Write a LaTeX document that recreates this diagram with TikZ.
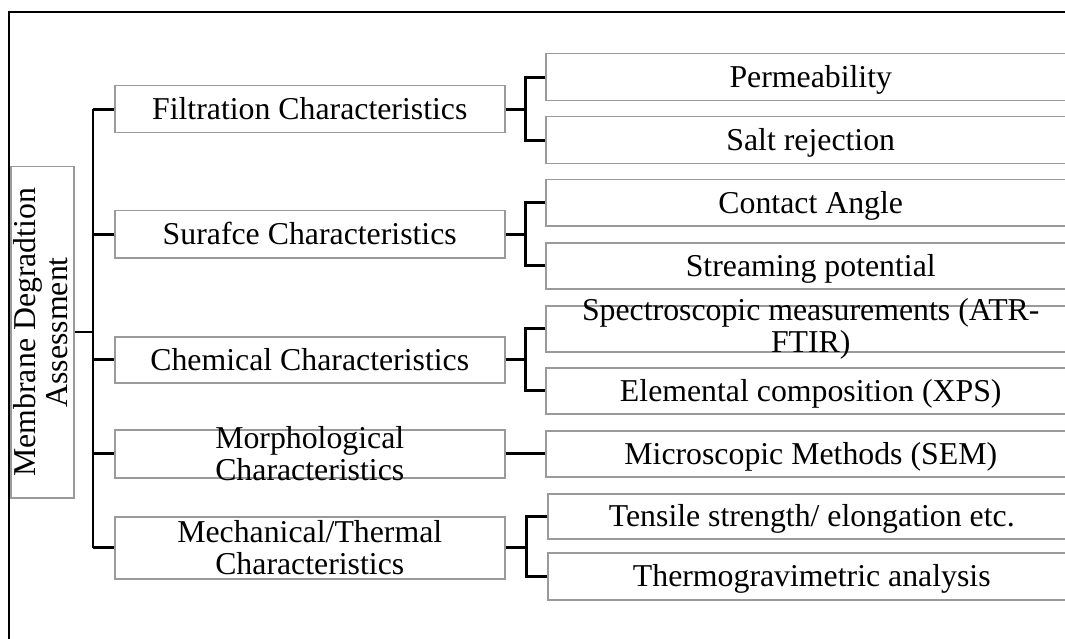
\documentclass[tikz,border=0pt]{standalone}
\usepackage{fontspec}
\setmainfont{Liberation Serif}
\definecolor{boxgray}{HTML}{9A9A9A}
\begin{document}
\begin{tikzpicture}[x=1pt,y=-1pt,
  box/.style={draw=boxgray, line width=1.5pt, anchor=north west, inner sep=0pt, minimum width=#1},
  box/.default=390pt,
  txt/.style={inner sep=0pt, align=center, font=\fontsize{31.8}{32}\selectfont},
  one/.style={txt, text height=28pt, text depth=7pt},
  conn/.style={draw=black, line width=2.6pt},
  frame/.style={draw=black, line width=2pt}]
\useasboundingbox (0,0) rectangle (1065,639);
\clip (0,0) rectangle (1065,639);
\draw[frame] (9,12) rectangle (1090,670);
% root
\node[box=63pt, minimum height=331pt] (root) at (10,166) {};
\node[txt, rotate=90] (roott) at ([xshift=-1.5pt]root.center) {Membrane Degradtion\\Assessment};
% level 1
\node[box, minimum height=47pt] (f) at (114,85) {};
\node[box, minimum height=47pt] (s) at (114,210) {};
\node[box, minimum height=46pt] (c) at (114,336) {};
\node[box, minimum height=48pt] (mo) at (114,429) {};
\node[box, minimum height=62pt] (me) at (114,516) {};
\node[one] (ft) at (f.center) {Filtration Characteristics};
\node[one] (st) at (s.center) {Surafce Characteristics};
\node[one] (ct) at (c.center) {Chemical Characteristics};
\node[txt] (mot) at (mo.center) {Morphological\\Characteristics};
\node[txt] (met) at (me.center) {Mechanical/Thermal\\Characteristics};
% level 2
\node[box=530pt, minimum height=47pt] (p) at (545,53) {};
\node[box=530pt, minimum height=47pt] (sr) at (545,116) {};
\node[box=530pt, minimum height=46pt] (ca) at (545,179) {};
\node[box=530pt, minimum height=46pt] (sp) at (545,242) {};
\node[box=530pt, minimum height=46pt] (spec) at (545,305) {};
\node[box=530pt, minimum height=46pt] (el) at (545,367) {};
\node[box=530pt, minimum height=46pt] (mi) at (545,430) {};
\node[box=528pt, minimum height=45pt] (te) at (547,493) {};
\node[box=528pt, minimum height=47pt] (th) at (547,552) {};
\node[one] (pt) at (p.center) {Permeability};
\node[one] (srt) at (sr.center) {Salt rejection};
\node[one] (cat) at (ca.center) {Contact Angle};
\node[one] (spt) at (sp.center) {Streaming potential};
\node[txt] (spect) at (spec.center) {Spectroscopic measurements (ATR-\\FTIR)};
\node[one] (elt) at (el.center) {Elemental composition (XPS)};
\node[one] (mit) at (mi.center) {Microscopic Methods (SEM)};
\node[one] (tet) at (te.center) {Tensile strength/ elongation etc.};
\node[one] (tht) at (th.center) {Thermogravimetric analysis};
% trunk
\coordinate (trunk) at (93,332);
\draw[conn] (root.east |- trunk) -- (trunk);
\draw[conn] (trunk |- f.west) -- (trunk |- me.west);
\foreach \n in {f,s,c,mo,me} \draw[conn] (trunk |- \n.west) -- (\n.west);
% level 2 brackets
\path (f.east) ++(20,0) coordinate (jf);
\path (s.east) ++(20,0) coordinate (js);
\path (c.east) ++(20,0) coordinate (jc);
\path (me.east) ++(21,0) coordinate (jm);
\draw[conn] (f.east) -- (jf);
\draw[conn] (p.west) -| (jf) |- (sr.west);
\draw[conn] (s.east) -- (js);
\draw[conn] (ca.west) -| (js) |- (sp.west);
\draw[conn] (c.east) -- (jc);
\draw[conn] (spec.west) -| (jc) |- (el.west);
\draw[conn] (mo.east) -- (mi.west);
\draw[conn] (me.east) -- (jm);
\draw[conn] (te.west) -| (jm) |- (th.west);
\end{tikzpicture}
\end{document}
